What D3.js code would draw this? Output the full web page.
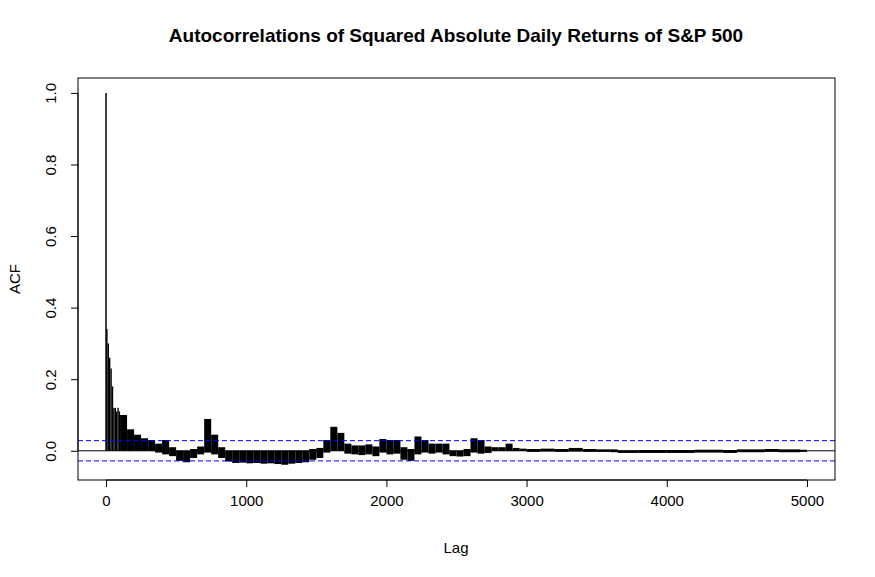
<!DOCTYPE html>
<html><head><meta charset="utf-8">
<script src="https://cdn.jsdelivr.net/npm/d3@7"></script>
<style>body{margin:0;background:#fff}text{font-family:"Liberation Sans",Arial,sans-serif}</style>
</head><body><svg id="c" width="875" height="577"></svg>
<script>
// ACF envelope per lag bin (start lag), upper and lower extent
var binStart = [1,11,21,31,41,51,61,71,81,91,
  100,150,200,250,300,350,400,450,500,550,600,650,700,750,800,850,900,950,
  1000,1050,1100,1150,1200,1250,1300,1350,1400,1450,1500,1550,1600,1650,1700,1750,1800,1850,1900,1950,
  2000,2050,2100,2150,2200,2250,2300,2350,2400,2450,2500,2550,2600,2650,2700,2750,2800,2850,2900,2950,
  3000,3100,3200,3300,3400,3500,3600,3650,3800,4000,4200,4400,4500,4700,4800,4950,5000];
var hi = [0.34,0.30,0.26,0.23,0.18,0.12,0.12,0.11,0.12,0.11,
  0.10,0.06,0.045,0.035,0.03,0.02,0.03,0.01,0.0,0.0,0.005,0.012,0.089,0.045,0.01,0.0,-0.005,0.0,
  -0.005,0.0,-0.005,-0.005,-0.008,-0.01,-0.005,0.0,0.0,0.005,0.008,0.03,0.067,0.05,0.02,0.015,0.015,0.018,0.012,0.033,
  0.03,0.03,0.01,0.005,0.04,0.03,0.02,0.02,0.02,0.0,0.0,0.005,0.035,0.03,0.012,0.01,0.01,0.02,0.008,0.006,
  0.005,0.006,0.005,0.008,0.005,0.004,0.004,0.001,0.002,0.002,0.003,0.002,0.004,0.005,0.004,0.003];
var lo = [0.2,0.2,0.2,0.15,0.1,0.06,0.06,0.05,0.05,0.04,
  0.03,0.02,0.01,0.005,0.0,-0.005,-0.01,-0.015,-0.028,-0.032,-0.02,-0.01,-0.005,-0.01,-0.02,-0.03,-0.034,-0.033,
  -0.035,-0.034,-0.036,-0.035,-0.037,-0.039,-0.036,-0.034,-0.032,-0.025,-0.02,-0.005,0.005,0.0,-0.008,-0.01,-0.012,-0.01,-0.015,-0.005,
  -0.01,-0.008,-0.025,-0.028,-0.01,-0.005,-0.008,-0.005,-0.01,-0.015,-0.016,-0.015,-0.005,-0.008,-0.006,0.0,0.002,0.0,0.0,0.0,
  -0.003,-0.002,-0.003,-0.002,-0.003,-0.003,-0.004,-0.006,-0.006,-0.006,-0.005,-0.006,-0.004,-0.003,-0.004,-0.003];
var acf0 = 1.0;
var nObs = 5000;
var xTicks = [0,1000,2000,3000,4000,5000];
var yTicks = [0.0,0.2,0.4,0.6,0.8,1.0];

var svg = d3.select("#c");
var L = 78, R = 835, T = 78, B = 480;
var x = d3.scaleLinear().domain([-200,5200]).range([L,R]);
var y = d3.scaleLinear().domain([-0.0816,1.0416]).range([B,T]);

// bars (binned envelope)
for (var i = 0; i < binStart.length - 1; i++) {
  var barTop = Math.max(hi[i],0), barBot = Math.min(lo[i],0);
  var x0 = x(binStart[i]), x1 = x(binStart[i+1]);
  svg.append("rect").attr("x",x0).attr("width",Math.max(x1-x0,0.8))
    .attr("y",y(barTop)).attr("height",Math.max(y(barBot)-y(barTop),1)).attr("fill","#000");
}
svg.append("line").attr("x1",x(0)).attr("x2",x(0)).attr("y1",y(0)).attr("y2",y(acf0))
  .attr("stroke","#000").attr("stroke-width",1.5);

// zero line and confidence bounds
svg.append("line").attr("x1",L).attr("x2",R).attr("y1",y(0)).attr("y2",y(0)).attr("stroke","#000");
var ci = 2/Math.sqrt(nObs);
[ci,-ci].forEach(function(v){
  svg.append("line").attr("x1",L).attr("x2",R).attr("y1",y(v)).attr("y2",y(v))
    .attr("stroke","#0000ff").attr("stroke-dasharray","5,3");
});

svg.append("rect").attr("x",L).attr("y",T).attr("width",R-L).attr("height",B-T)
  .attr("fill","none").attr("stroke","#000");

// axes
var xa = svg.append("g").attr("transform","translate(0,"+B+")")
  .call(d3.axisBottom(x).tickValues(xTicks).tickSize(7).tickPadding(8).tickFormat(d3.format("d")));
xa.select(".domain").attr("d","M"+x(0)+",0H"+x(5000));
var ya = svg.append("g").attr("transform","translate("+L+",0)")
  .call(d3.axisLeft(y).tickValues(yTicks).tickSize(7).tickFormat(d3.format(".1f")));
ya.select(".domain").attr("d","M0,"+y(0)+"V"+y(1));
ya.selectAll(".tick text").attr("x",0).attr("dy",null)
  .attr("text-anchor","middle").attr("transform","translate(-22,0) rotate(-90)");
[xa,ya].forEach(function(a){ a.selectAll("text").attr("font-size",15).attr("fill","#000")
  .attr("font-family","Liberation Sans, Arial, sans-serif"); });

svg.append("text").attr("x",456).attr("y",42).attr("text-anchor","middle")
  .attr("font-weight","bold").attr("font-size",19).text("Autocorrelations of Squared Absolute Daily Returns of S&P 500");
svg.append("text").attr("x",456).attr("y",553).attr("text-anchor","middle").attr("font-size",15).text("Lag");
svg.append("text").attr("transform","translate(20,279) rotate(-90)").attr("text-anchor","middle")
  .attr("font-size",15).text("ACF");
</script></body></html>
